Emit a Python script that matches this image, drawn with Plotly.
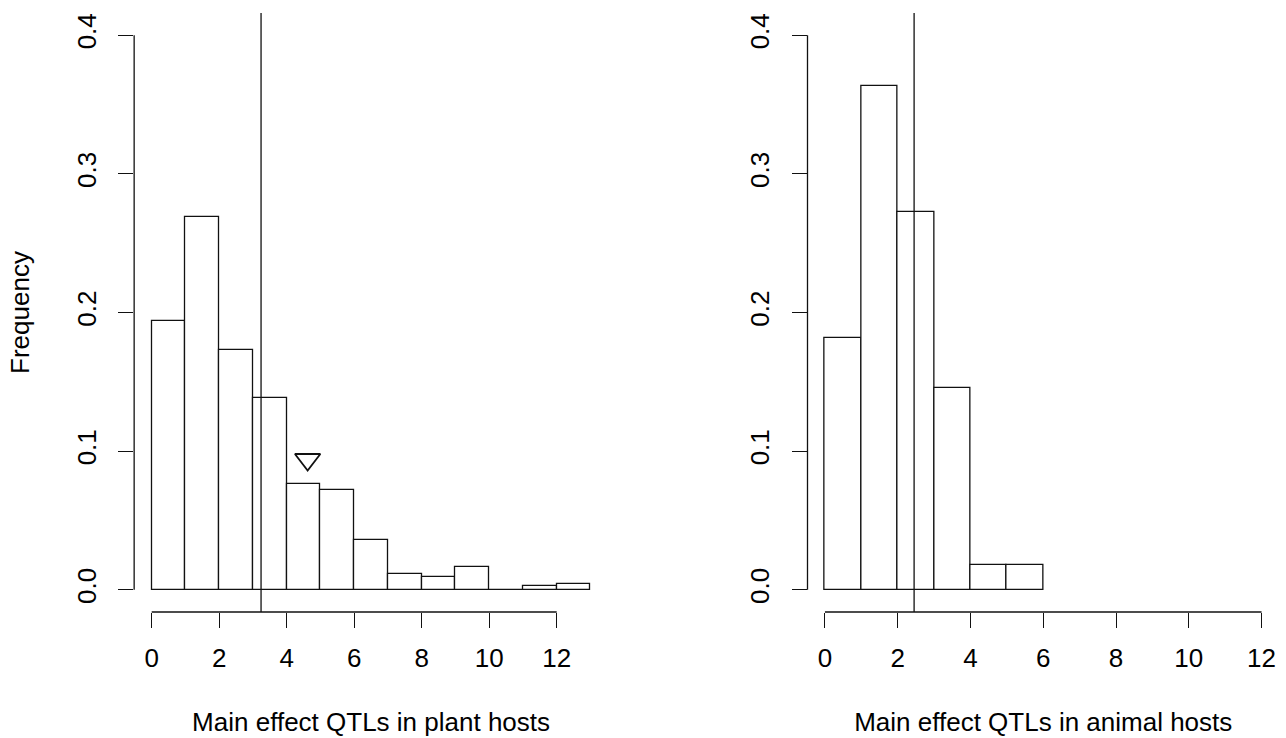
import plotly.graph_objects as go

# ---- data ----
plant_bin_left = [0, 1, 2, 3, 4, 5, 6, 7, 8, 9, 10, 11, 12]
plant_freq = [0.194, 0.269, 0.173, 0.138, 0.0765, 0.072, 0.036, 0.0115, 0.009, 0.0166, 0.0, 0.003, 0.0043]
animal_bin_left = [0, 1, 2, 3, 4, 5]
animal_freq = [0.1818, 0.3636, 0.2727, 0.1455, 0.0182, 0.0182]
plant_vline = 3.24
animal_vline = 2.45
marker_x = [4.62]
marker_y = [0.094]
x_ticks = [0, 2, 4, 6, 8, 10, 12]
y_ticks = [0.0, 0.1, 0.2, 0.3, 0.4]
x_title_plant = "Main effect QTLs in plant hosts"
x_title_animal = "Main effect QTLs in animal hosts"
y_title = "Frequency"

FONT = "Liberation Sans, Arial, Helvetica, sans-serif"
FS = 26
LC = "#111111"

fig = go.Figure()

fig.add_trace(go.Bar(
    x=[b + 0.5 for b in plant_bin_left], y=plant_freq, width=1,
    marker=dict(color="white", line=dict(color=LC, width=1.3)),
    xaxis="x", yaxis="y", showlegend=False, hoverinfo="skip"))
fig.add_trace(go.Bar(
    x=[b + 0.5 for b in animal_bin_left], y=animal_freq, width=1,
    marker=dict(color="white", line=dict(color=LC, width=1.3)),
    xaxis="x2", yaxis="y2", showlegend=False, hoverinfo="skip"))
fig.add_trace(go.Scatter(
    x=marker_x, y=marker_y, mode="markers",
    marker=dict(symbol="triangle-down-open", size=22, color=LC, line=dict(width=1.8, color=LC)),
    xaxis="x", yaxis="y", showlegend=False, hoverinfo="skip"))

xaxis_common = dict(
    tickvals=x_ticks, ticks="outside", ticklen=15, tickwidth=1.3, tickcolor=LC,
    showline=False, showgrid=False, zeroline=False, automargin=False,
    tickfont=dict(family=FONT, size=FS, color="black"), ticklabelstandoff=8,
)
yaxis_common = dict(
    range=[-0.016, 0.416], tickvals=y_ticks, tickformat=".1f", tickangle=-90,
    ticks="outside", ticklen=15, tickwidth=1.3, tickcolor=LC,
    showline=False, showgrid=False, zeroline=False, automargin=False,
    tickfont=dict(family=FONT, size=FS, color="black"), ticklabelstandoff=12,
    domain=[126 / 738, 725 / 738],
)

fig.update_layout(
    width=1286, height=738,
    margin=dict(l=0, r=0, t=0, b=0),
    paper_bgcolor="white", plot_bgcolor="white",
    bargap=0,
    xaxis=dict(**xaxis_common, range=[-0.52, 13.52], domain=[134.15 / 1286, 608 / 1286], anchor="y",
               title=dict(text=x_title_plant, font=dict(family=FONT, size=FS, color="black"), standoff=40)),
    yaxis=dict(**yaxis_common, anchor="x",
               title=dict(text=y_title, font=dict(family=FONT, size=FS, color="black"), standoff=34)),
    xaxis2=dict(**xaxis_common, range=[-0.48, 12.48], domain=[807.5 / 1286, 1279 / 1286], anchor="y2",
                title=dict(text=x_title_animal, font=dict(family=FONT, size=FS, color="black"), standoff=40)),
    yaxis2=dict(**yaxis_common, anchor="x2"),
)

shapes = []
for xr, yr, vx in (("x", "y", plant_vline), ("x2", "y2", animal_vline)):
    # axis lines spanning tick range (R style)
    shapes.append(dict(type="line", xref=xr, yref=yr + " domain", x0=x_ticks[0], x1=x_ticks[-1], y0=0, y1=0,
                       line=dict(color=LC, width=1.3)))
    shapes.append(dict(type="line", xref=xr + " domain", yref=yr, x0=0, x1=0, y0=y_ticks[0], y1=y_ticks[-1],
                       line=dict(color=LC, width=1.3)))
    # vertical reference line
    shapes.append(dict(type="line", xref=xr, yref=yr + " domain", x0=vx, x1=vx, y0=0, y1=1,
                       line=dict(color=LC, width=1.3)))
fig.update_layout(shapes=shapes)

fig.write_html("out.html",
               config={"displayModeBar": False},
               post_script="document.body.style.margin='0px';document.body.style.padding='0px';")
